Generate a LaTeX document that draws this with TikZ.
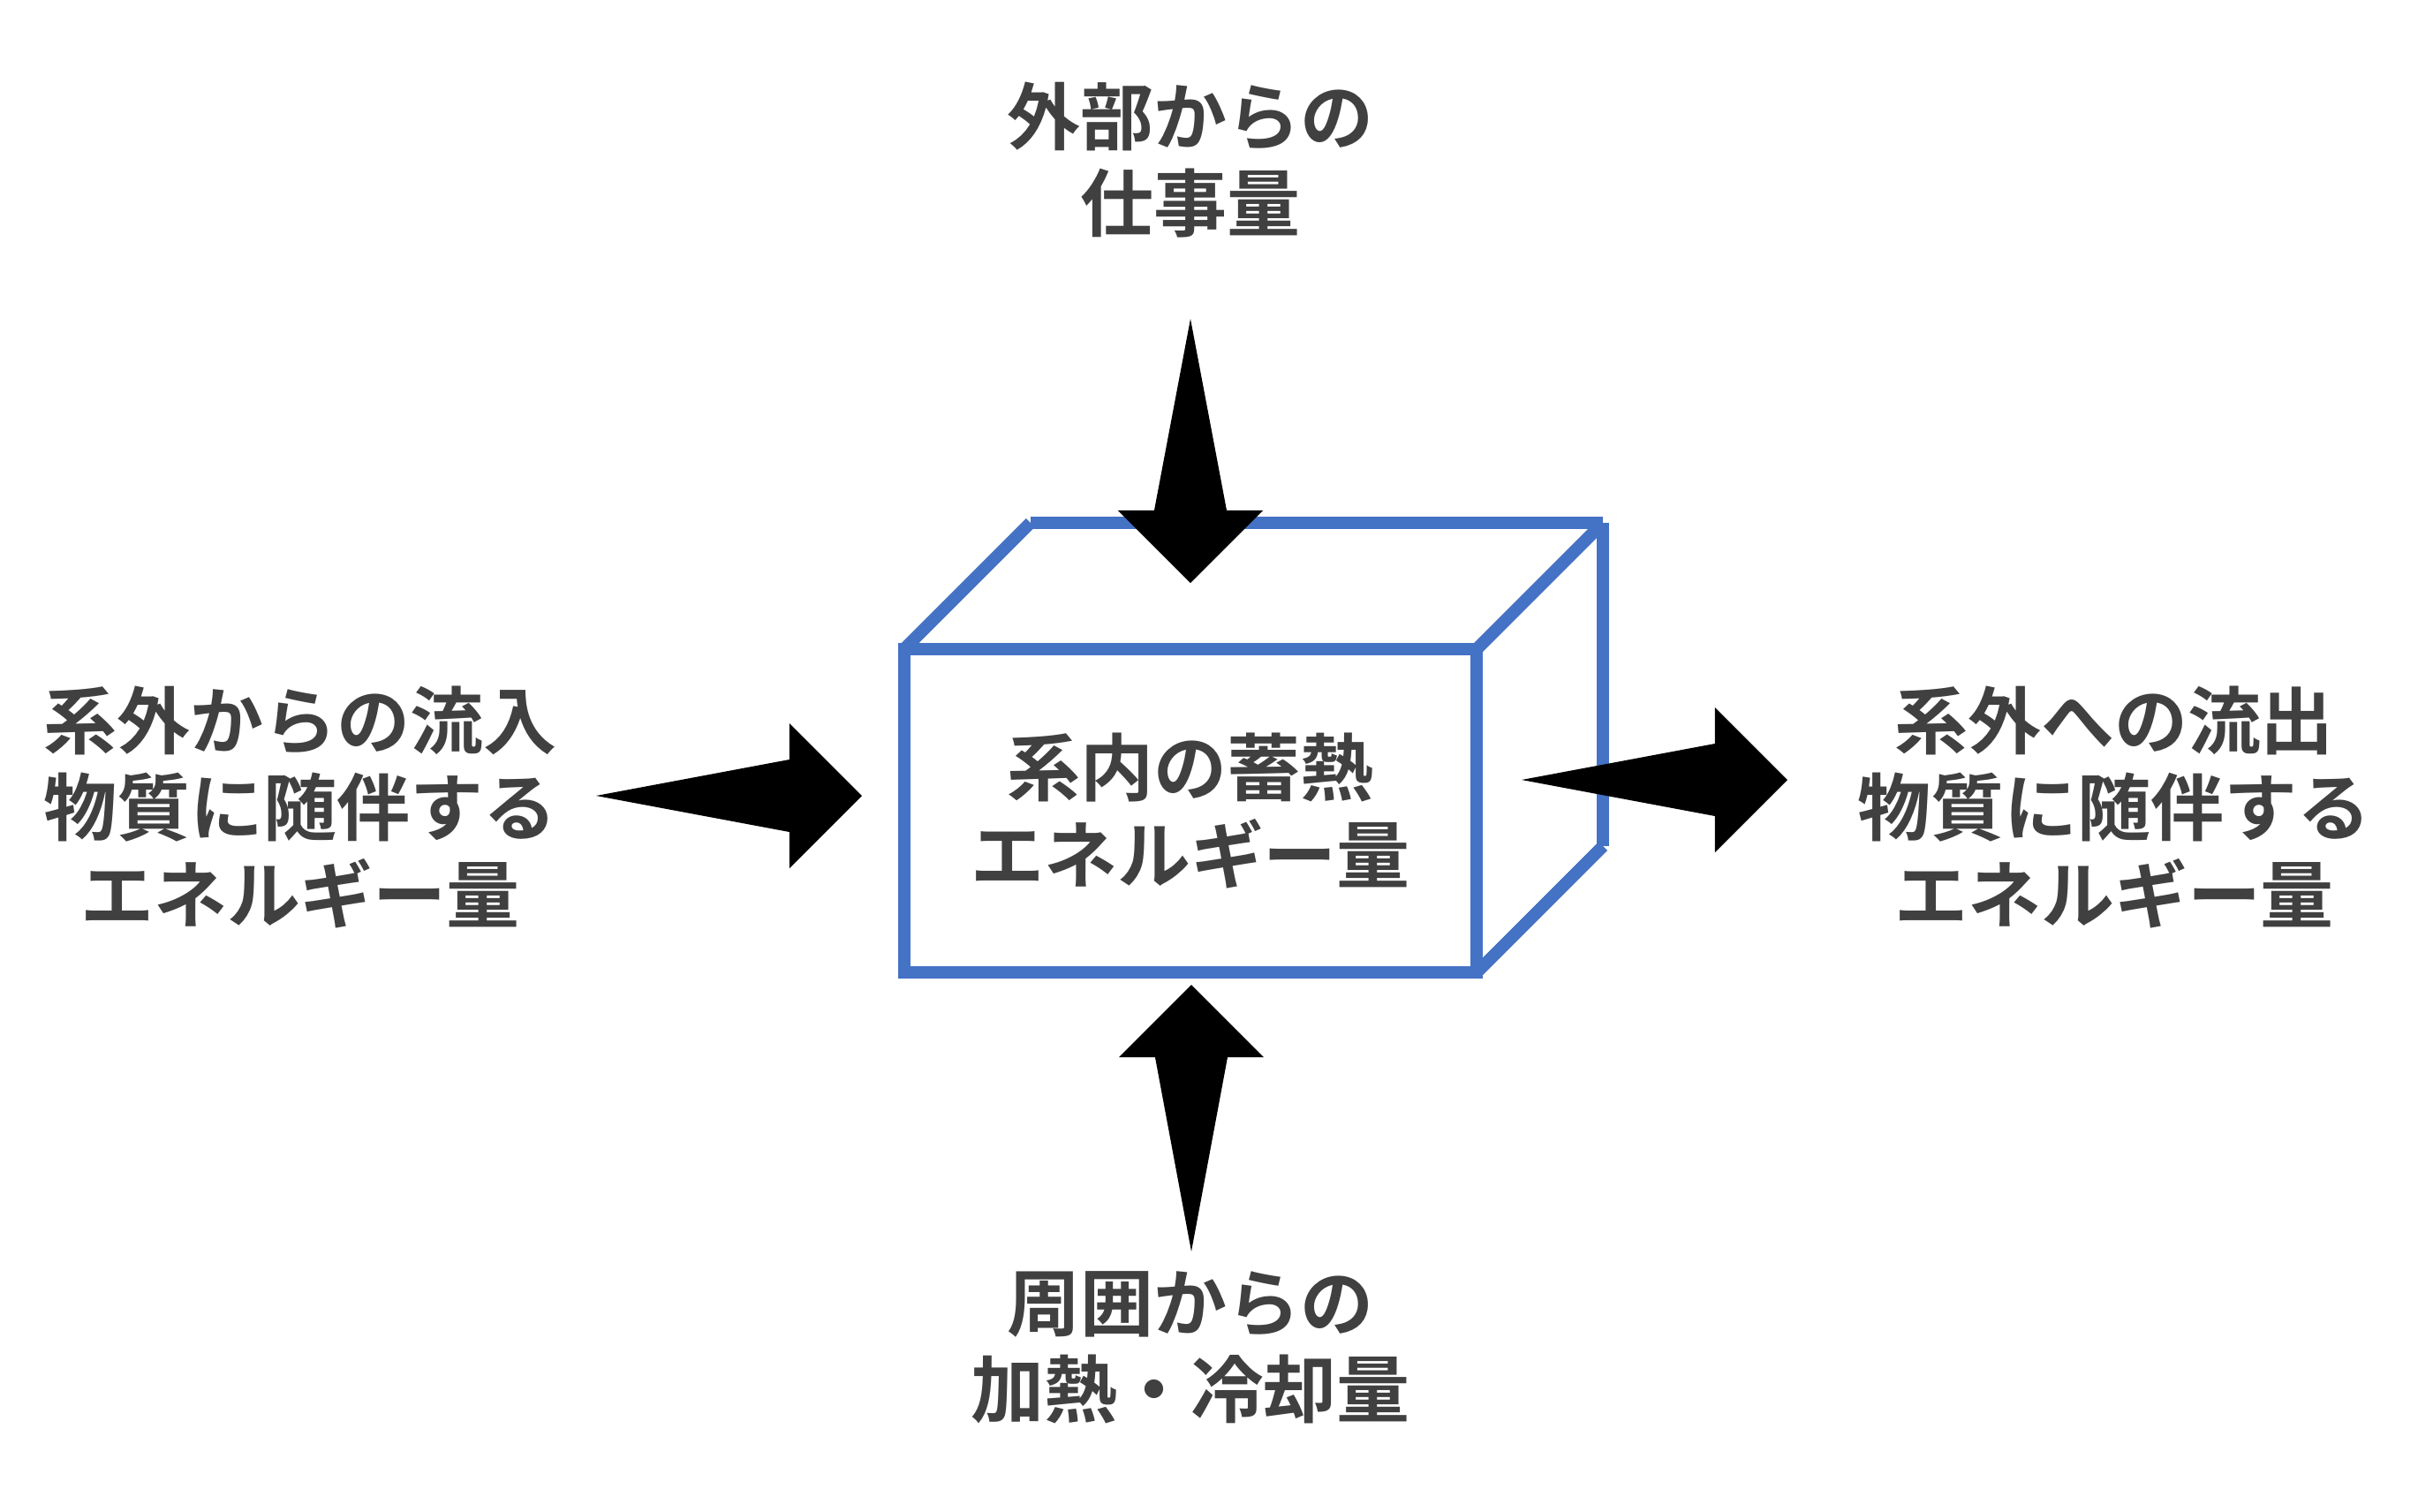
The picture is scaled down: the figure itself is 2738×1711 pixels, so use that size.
\documentclass[tikz,border=0pt]{standalone}
\usepackage{fontspec}
\newfontfamily\jp{Noto Sans CJK JP Bold}
\usetikzlibrary{calc}
\definecolor{boxblue}{HTML}{4472C4}
\definecolor{txtgray}{HTML}{404040}
\tikzset{
  lbl/.style={font=\jp\fontsize{23.6pt}{28pt}\selectfont, text=txtgray, align=center, inner sep=0pt},
  frontface/.style={draw=boxblue, line width=0.14cm, minimum width=6.48cm, minimum height=3.66cm, inner sep=0pt, outer sep=0pt, line join=miter},
  edge3d/.style={draw=boxblue, line width=0.14cm, line cap=butt},
  blockarrow/.style={fill=black}
}
\newcommand\taperarrow[2]{%
  \path ($(#2)!0.82cm!(#1)$) coordinate (hb);
  \fill[blockarrow] (#1) -- ($(hb)!0.41cm!90:(#2)$) -- ($(hb)!0.82cm!90:(#2)$) -- (#2)
    -- ($(hb)!0.82cm!-90:(#2)$) -- ($(hb)!0.41cm!-90:(#2)$) -- cycle;}
\begin{document}
\begin{tikzpicture}[x=0.01cm,y=-0.01cm]
\path[use as bounding box] (0,0) rectangle (2738,1711);

% box
\node[frontface, lbl] (front) at (1348,918) {系内の蓄熱\\エネルギー量};
\coordinate (bnw) at ($(front.north west)+(143,-143)$);
\coordinate (bne) at ($(front.north east)+(143,-143)$);
\coordinate (bse) at ($(front.south east)+(143,-143)$);
\draw[edge3d] (front.north west) -- (bnw);
\draw[edge3d] (bnw) -- (bne);
\draw[edge3d] (front.north east) -- (bne);
\draw[edge3d] (bne) -- (bse);
\draw[edge3d] (front.south east) -- (bse);

% labels
\node[lbl] (work) at (1348,181) {外部からの\\仕事量};
\node[lbl] (inflow) at (340,914) {系外からの流入\\物質に随伴する\\エネルギー量};
\node[lbl] (outflow) at (2394,914) {系外への流出\\物質に随伴する\\エネルギー量};
\node[lbl] (heat) at (1348,1526) {周囲からの\\加熱・冷却量};

% arrow ends
\coordinate (topTail) at (1348,361);
\coordinate (topTip) at (1348,660);
\coordinate (leftTail) at (675,901);
\coordinate (leftTip) at (976,901);
\coordinate (rightTail) at (1723,883);
\coordinate (rightTip) at (2024,883);
\coordinate (botTail) at (1349,1417);
\coordinate (botTip) at (1349,1115);

\taperarrow{topTail}{topTip}
\taperarrow{leftTail}{leftTip}
\taperarrow{rightTail}{rightTip}
\taperarrow{botTail}{botTip}
\end{tikzpicture}
\end{document}
